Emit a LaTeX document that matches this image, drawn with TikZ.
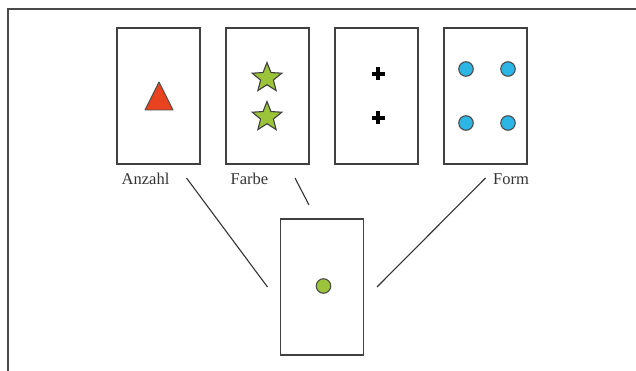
\documentclass[tikz,border=0pt]{standalone}
\usepackage{fontspec}
\setmainfont{Liberation Serif}
\usetikzlibrary{shapes.geometric}
\definecolor{frameline}{HTML}{4A4A4A}
\definecolor{cardline}{HTML}{404040}
\definecolor{tri}{HTML}{E8431E}
\definecolor{lime}{HTML}{9CC43A}
\definecolor{cyanish}{HTML}{2BB6E6}
\definecolor{labeltext}{HTML}{333333}
\tikzset{
  card/.style={draw=cardline, line width=1.5pt, fill=white, minimum width=83pt, minimum height=136pt, inner sep=0pt},
  lbl/.style={anchor=base west, inner sep=0pt, text=labeltext, font=\fontsize{16.5}{18}\selectfont},
  link/.style={draw=black!80, line width=1.1pt},
  starsym/.style={star, star points=5, star point ratio=2.3, minimum size=31pt, inner sep=0pt, draw=black!75, line width=1.1pt, fill=lime},
  dot/.style={circle, minimum size=14.5pt, inner sep=0pt, draw=black!70, line width=1.1pt},
  plusarm/.style={line width=4pt, black}
}
\begin{document}
\begin{tikzpicture}[x=1pt, y=-1pt]
\useasboundingbox (0,0) rectangle (636,371);
% outer frame: top and left edges only
\draw[frameline, line width=2pt] (7.7,371) -- (7.7,9.5) -- (636,9.5);

% the four top cards
\node[card] (c1) at (158.5,96) {};
\node[card] (c2) at (267.5,96) {};
\node[card] (c3) at (376.5,96) {};
\node[card] (c4) at (485.5,96) {};
% the bottom card
\node[card] (c5) at (322,287) {};

% card 1: triangle
\draw[fill=tri, draw=black!70, line width=0.9pt, line join=round] (159,82) -- (173,110) -- (145,110) -- cycle;

% card 2: two stars
\node[starsym] (s1) at (267,78) {};
\node[starsym] (s2) at (267,117) {};

% card 3: two crosses
\draw[plusarm] (371.5,74) -- (384.5,74) (378,67.5) -- (378,80.5);
\draw[plusarm] (371.5,118) -- (384.5,118) (378,111.5) -- (378,124.5);

% card 4: four circles
\node[dot, fill=cyanish] (d1) at (466,69) {};
\node[dot, fill=cyanish] (d2) at (508,69) {};
\node[dot, fill=cyanish] (d3) at (466,123) {};
\node[dot, fill=cyanish] (d4) at (508,123) {};

% bottom card: one dot
\node[dot, fill=lime] (g) at (323.5,286) {};

% labels
\node[lbl] (la) at (121.5,185) {Anzahl};
\node[lbl] (lf) at (230.5,185) {Farbe};
\node[lbl] (lo) at (493,185) {Form};

% connector ends
\coordinate (a1) at (186.5,178);
\coordinate (a2) at (267.5,287);
\coordinate (f1) at (295,178);
\coordinate (f2) at (309,205);
\coordinate (o1) at (485.5,178);
\coordinate (o2) at (377,287);

\draw[link] (a1) -- (a2);
\draw[link] (f1) -- (f2);
\draw[link] (o1) -- (o2);
\end{tikzpicture}
\end{document}
